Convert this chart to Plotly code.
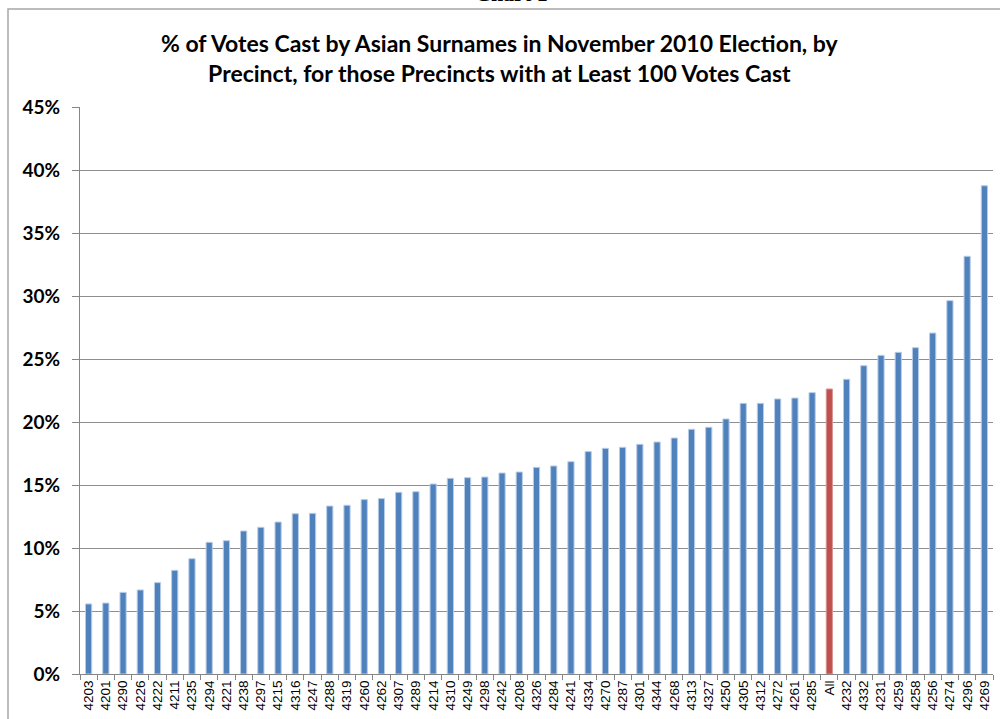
import plotly.graph_objects as go

precincts = ["4203","4201","4290","4226","4222","4211","4235","4294","4221","4238","4297","4215",
             "4316","4247","4288","4319","4260","4262","4307","4289","4214","4310","4249","4298",
             "4242","4208","4326","4284","4241","4334","4270","4287","4301","4344","4268","4313",
             "4327","4250","4305","4312","4272","4261","4285","All","4232","4332","4231","4259",
             "4258","4256","4274","4296","4269"]
pct_asian = [5.56,5.63,6.48,6.67,7.25,8.23,9.15,10.45,10.58,11.35,11.64,12.06,
             12.72,12.75,13.33,13.39,13.84,13.92,14.42,14.47,15.08,15.53,15.58,15.63,
             15.95,16.03,16.40,16.51,16.85,17.65,17.91,17.99,18.23,18.41,18.73,19.42,
             19.58,20.24,21.48,21.48,21.83,21.90,22.33,22.62,23.39,24.47,25.29,25.53,
             25.90,27.06,29.63,33.15,38.75]
values = [v / 100 for v in pct_asian]
colors = ["#C0504D" if p == "All" else "#4F81BD" for p in precincts]
line_colors = ["#D99694" if p == "All" else "#B9CDE5" for p in precincts]

title_text = ("% of Votes Cast by Asian Surnames in November 2010 Election, by<br>"
              "Precinct, for those Precincts with at Least 100 Votes Cast")

fig = go.Figure(go.Bar(
    x=precincts, y=values,
    marker=dict(color=colors, line=dict(color=line_colors, width=1)),
    width=0.36,
))

L, R, T, B = 80, 7, 107, 45
W, H = 1000, 719
pw, ph = W - L - R, H - T - B

def px_x(p):
    return (p - L) / pw

def px_y(p):
    return (H - B - p) / ph

fig.update_layout(
    width=W, height=H,
    margin=dict(l=L, r=R, t=T, b=B),
    plot_bgcolor="white", paper_bgcolor="white",
    showlegend=False,
    font=dict(family="Lato, Arial, sans-serif", color="black"),
    shapes=[dict(type="rect", xref="paper", yref="paper",
                 x0=px_x(8), x1=px_x(1010), y0=px_y(740), y1=px_y(9),
                 line=dict(color="#A6A6A6", width=1.5), fillcolor="rgba(0,0,0,0)", layer="below")],
    annotations=[
        dict(text=title_text, xref="paper", yref="paper", x=px_x(500), y=px_y(58),
             xanchor="center", yanchor="middle", showarrow=False,
             font=dict(family="Lato, sans-serif", size=23, color="black", weight="bold")),
        dict(text="Chart 1", xref="paper", yref="paper", x=px_x(511), y=px_y(8),
             xanchor="center", yanchor="bottom", showarrow=False,
             font=dict(family="Liberation Serif, serif", size=22, color="black", weight="bold")),
    ],
)

fig.update_xaxes(
    type="category",
    tickangle=-90,
    tickfont=dict(family="Liberation Sans, Arial, sans-serif", size=13.5, color="black"),
    ticks="outside", tickson="boundaries", ticklen=5, tickcolor="#868686",
    showline=True, linecolor="#868686", linewidth=1,
    showgrid=False,
)
fig.update_yaxes(
    range=[0, 0.45], dtick=0.05, tickformat=".0%",
    tickfont=dict(family="Lato, sans-serif", size=19, color="black", weight="bold"),
    ticks="outside", ticklen=7, tickcolor="#868686",
    showline=True, linecolor="#868686", linewidth=1,
    showgrid=True, gridcolor="#8E8E8E", gridwidth=1,
    zeroline=False,
    ticklabelstandoff=8,
)

fig.write_html("out.html")
